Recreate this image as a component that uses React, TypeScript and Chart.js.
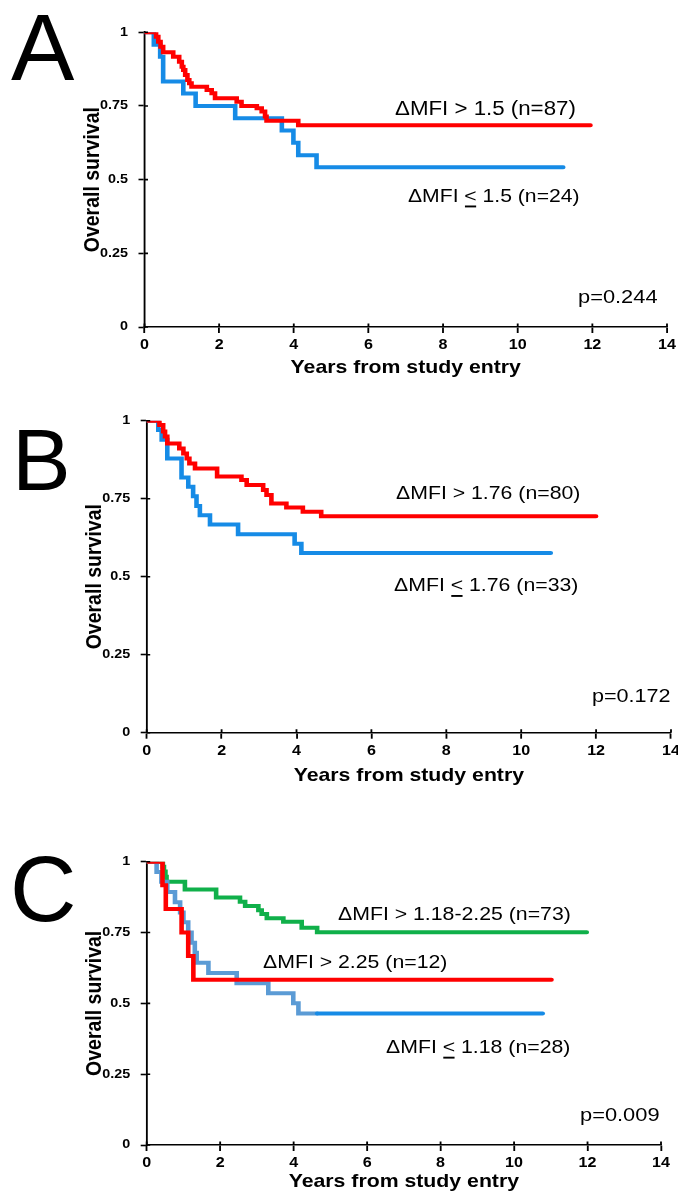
import React, { useEffect, useRef } from 'react';
import { Chart, registerables } from 'chart.js';

Chart.register(...registerables);

const PAGE_W = 678;
const LOGICAL_W = 590;
const SX = PAGE_W / LOGICAL_W;
const FONT = '"Liberation Sans", Arial, Helvetica, sans-serif';

const X_TICKS = [0, 2, 4, 6, 8, 10, 12, 14];
const Y_TICKS = [0, 0.25, 0.5, 0.75, 1];
const Y_TICK_LABELS = ['0', '0.25', '0.5', '0.75', '1'];
const X_TITLE = 'Years from study entry';
const Y_TITLE = 'Overall survival';

const RED = '#ff0000';
const BLUE = '#168be6';
const LIGHT_BLUE = '#5b9bd5';
const GREEN = '#10b04a';

// Panel A
const A_HIGH_T = [0, 0.31, 0.37, 0.43, 0.5, 0.77, 0.93, 1.0, 1.04, 1.09, 1.15, 1.2, 1.26, 1.67, 1.8, 1.89, 2.47, 2.6, 3.01, 3.14, 3.23, 3.27, 4.12, 11.95];
const A_HIGH_S = [1, 0.985, 0.968, 0.951, 0.932, 0.917, 0.9, 0.883, 0.872, 0.855, 0.838, 0.827, 0.815, 0.804, 0.793, 0.776, 0.764, 0.75, 0.742, 0.731, 0.714, 0.7, 0.685, 0.685];
const A_LOW_T = [0, 0.25, 0.42, 0.5, 1.04, 1.37, 2.43, 3.68, 3.99, 4.12, 4.61, 11.22];
const A_LOW_S = [1, 0.958, 0.917, 0.833, 0.792, 0.75, 0.708, 0.667, 0.625, 0.583, 0.542, 0.542];
const A_LABELS = ['ΔMFI > 1.5 (n=87)', 'ΔMFI < 1.5 (n=24)'];
const A_P = 'p=0.244';

// Panel B
const B_HIGH_T = [0, 0.34, 0.44, 0.49, 0.55, 0.87, 0.98, 1.07, 1.14, 1.29, 1.88, 2.53, 2.67, 3.11, 3.2, 3.33, 3.73, 4.17, 4.66, 12.0];
const B_HIGH_S = [1, 0.986, 0.965, 0.949, 0.927, 0.911, 0.895, 0.879, 0.863, 0.847, 0.821, 0.81, 0.794, 0.778, 0.762, 0.735, 0.722, 0.708, 0.694, 0.694];
const B_LOW_T = [0, 0.31, 0.4, 0.55, 0.93, 1.11, 1.24, 1.33, 1.42, 1.69, 2.44, 3.95, 4.13, 10.79];
const B_LOW_S = [1, 0.97, 0.939, 0.879, 0.818, 0.788, 0.758, 0.727, 0.697, 0.667, 0.636, 0.606, 0.576, 0.576];
const B_LABELS = ['ΔMFI > 1.76 (n=80)', 'ΔMFI < 1.76 (n=33)'];
const B_P = 'p=0.172';

// Panel C
const C_MID_T = [0, 0.44, 0.47, 0.51, 0.54, 1.04, 1.89, 2.54, 2.68, 3.04, 3.13, 3.27, 3.72, 4.22, 4.64, 11.98];
const C_MID_S = [1, 0.982, 0.965, 0.947, 0.929, 0.902, 0.874, 0.859, 0.844, 0.829, 0.815, 0.8, 0.788, 0.767, 0.751, 0.751];
const C_HIGH_T = [0, 0.43, 0.52, 0.95, 1.13, 1.27, 11.02];
const C_HIGH_S = [1, 0.917, 0.833, 0.75, 0.667, 0.583, 0.583];
const C_LOW_T = [0, 0.27, 0.4, 0.56, 0.77, 0.91, 1.0, 1.13, 1.22, 1.31, 1.36, 1.68, 2.45, 3.31, 3.99, 4.13, 4.64, 10.78];
const C_LOW_S = [1, 0.964, 0.929, 0.893, 0.857, 0.821, 0.786, 0.75, 0.714, 0.679, 0.643, 0.607, 0.571, 0.536, 0.5, 0.464, 0.464, 0.464];
const C_LABELS = ['ΔMFI > 1.18-2.25 (n=73)', 'ΔMFI > 2.25 (n=12)', 'ΔMFI < 1.18 (n=28)'];
const C_P = 'p=0.009';

type Series = { t: number[]; s: number[]; color: string; order: number; splitAt?: number; lateColor?: string };
type Note = { text: string; x: number; y: number; size: number; underline?: string };
type Panel = {
  letter: string; letterX: number; letterY: number; letterSize: number;
  top: number; height: number; left: number; right: number; plotTop: number; plotBottom: number;
  yTitleCenter: number; xTitleCenter: number; xTickPad: number;
  series: Series[]; notes: Note[];
};

const PANELS: Panel[] = [
  {
    letter: 'A', letterX: 11, letterY: 80, letterSize: 95,
    top: 0, height: 395, left: 144.5, right: 667, plotTop: 32.3, plotBottom: 327,
    yTitleCenter: 93, xTitleCenter: 368, xTickPad: 3.5,
    series: [
      { t: A_LOW_T, s: A_LOW_S, color: BLUE, order: 1 },
      { t: A_HIGH_T, s: A_HIGH_S, color: RED, order: 0 },
    ],
    notes: [
      { text: A_LABELS[0], x: 395, y: 114.7, size: 19.4 },
      { text: A_LABELS[1], x: 408, y: 201.5, size: 18.4, underline: '<' },
      { text: A_P, x: 578, y: 303, size: 19 },
    ],
  },
  {
    letter: 'B', letterX: 12, letterY: 490, letterSize: 88,
    top: 395, height: 395, left: 146.7, right: 671, plotTop: 420.7, plotBottom: 732.7,
    yTitleCenter: 95, xTitleCenter: 776, xTickPad: 4.5,
    series: [
      { t: B_LOW_T, s: B_LOW_S, color: BLUE, order: 1 },
      { t: B_HIGH_T, s: B_HIGH_S, color: RED, order: 0 },
    ],
    notes: [
      { text: B_LABELS[0], x: 396, y: 499, size: 18.5 },
      { text: B_LABELS[1], x: 394, y: 591, size: 18.5, underline: '<' },
      { text: B_P, x: 592, y: 702, size: 18.8 },
    ],
  },
  {
    letter: 'C', letterX: 10, letterY: 921, letterSize: 92,
    top: 790, height: 402, left: 146.7, right: 661, plotTop: 861.7, plotBottom: 1145,
    yTitleCenter: 95, xTitleCenter: 1182, xTickPad: 3.5,
    series: [
      { t: C_MID_T, s: C_MID_S, color: GREEN, order: 2 },
      { t: C_LOW_T, s: C_LOW_S, color: LIGHT_BLUE, order: 1, splitAt: 4.6, lateColor: BLUE },
      { t: C_HIGH_T, s: C_HIGH_S, color: RED, order: 0 },
    ],
    notes: [
      { text: C_LABELS[0], x: 338, y: 920, size: 18.5 },
      { text: C_LABELS[1], x: 263, y: 968.3, size: 18.5 },
      { text: C_LABELS[2], x: 386, y: 1052.7, size: 18.5, underline: '<' },
      { text: C_P, x: 580, y: 1121, size: 19 },
    ],
  },
];

function drawNote(ctx: CanvasRenderingContext2D, n: Note, topOffset: number) {
  ctx.save();
  ctx.translate(n.x, n.y - topOffset);
  ctx.scale(SX, 1);
  ctx.font = `${n.size}px ${FONT}`;
  ctx.fillStyle = '#000';
  ctx.textBaseline = 'alphabetic';
  ctx.textAlign = 'left';
  ctx.fillText(n.text, 0, 0);
  if (n.underline) {
    const idx = n.text.indexOf(n.underline);
    const x0 = ctx.measureText(n.text.slice(0, idx)).width;
    const w = ctx.measureText(n.underline).width;
    ctx.fillRect(x0 + 0.5, 4, w - 1, 1.9);
  }
  ctx.restore();
}

function makePlugin(panel: Panel) {
  return {
    id: 'stretchNotes',
    beforeDraw(chart: any) {
      const ctx = chart.ctx;
      ctx.save();
      ctx.setTransform(SX, 0, 0, 1, 0, 0);
    },
    afterDraw(chart: any) {
      const ctx: CanvasRenderingContext2D = chart.ctx;
      const { left, bottom } = chart.chartArea;
      const xs = chart.scales.x;
      const ys = chart.scales.y;
      ctx.save();
      ctx.strokeStyle = '#000';
      ctx.lineWidth = 1.6;
      ctx.beginPath();
      xs.ticks.forEach((tk: any) => {
        const px = xs.getPixelForValue(tk.value);
        ctx.moveTo(px, bottom);
        ctx.lineTo(px, bottom - 3.5);
      });
      ys.ticks.forEach((tk: any) => {
        const py = ys.getPixelForValue(tk.value);
        ctx.moveTo(left, py);
        ctx.lineTo(left + 3.5 / SX, py);
      });
      ctx.stroke();
      ctx.restore();
      ctx.restore();

      ctx.save();
      ctx.setTransform(1, 0, 0, 1, 0, 0);
      panel.notes.forEach((n) => drawNote(ctx, n, panel.top));
      ctx.font = `${panel.letterSize}px ${FONT}`;
      ctx.fillStyle = '#000';
      ctx.textBaseline = 'alphabetic';
      ctx.textAlign = 'left';
      ctx.fillText(panel.letter, panel.letterX, panel.letterY - panel.top);
      ctx.restore();
    },
  };
}

function PanelChart({ panel }: { panel: Panel }) {
  const ref = useRef<HTMLCanvasElement>(null);
  useEffect(() => {
    const canvas = ref.current as HTMLCanvasElement;
    canvas.width = LOGICAL_W;
    canvas.height = panel.height;
    canvas.style.width = PAGE_W + 'px';
    canvas.style.height = panel.height + 'px';

    const leftL = panel.left / SX;
    const rightL = panel.right / SX;
    const plotTop = panel.plotTop - panel.top;
    const plotBottom = panel.plotBottom - panel.top;
    const xH = panel.height - plotBottom;
    const xTitleSize = 18.5;
    const yTitleSize = 19.5;
    const xTitlePad = panel.height - (panel.xTitleCenter - panel.top) - (xTitleSize * 1.2) / 2;
    const yTitlePad = panel.yTitleCenter / SX - (yTitleSize * 1.2) / 2;

    const chart = new Chart(canvas, {
      type: 'line',
      data: {
        datasets: panel.series.map((se) => ({
          data: se.t.map((x, i) => ({ x, y: se.s[i] })),
          borderColor: se.color,
          borderWidth: 4,
          stepped: 'before',
          pointRadius: 0,
          pointHoverRadius: 0,
          fill: false,
          tension: 0,
          borderCapStyle: 'round',
          borderJoinStyle: 'miter',
          order: se.order,
          segment: se.lateColor
            ? { borderColor: (c: any) => (c.p0.parsed.x >= (se.splitAt as number) ? se.lateColor : se.color) }
            : undefined,
        })),
      } as any,
      options: {
        responsive: false,
        animation: false,
        devicePixelRatio: 1,
        events: [],
        layout: {
          autoPadding: false,
          padding: { top: plotTop, right: LOGICAL_W - rightL, left: 0, bottom: 0 },
        },
        plugins: { legend: { display: false }, tooltip: { enabled: false } },
        scales: {
          x: {
            type: 'linear',
            min: 0,
            max: 14,
            afterBuildTicks: (s: any) => {
              s.ticks = X_TICKS.map((v) => ({ value: v }));
            },
            ticks: {
              callback: (v: any) => String(v),
              font: { family: FONT, size: 14, weight: 'bold' },
              color: '#000',
              padding: panel.xTickPad,
              maxRotation: 0,
              autoSkip: false,
            },
            grid: { display: true, drawOnChartArea: false, drawTicks: true, tickLength: 6, tickWidth: 1.6, tickColor: '#000' },
            border: { display: true, color: '#000', width: 1.6 },
            title: {
              display: true,
              text: X_TITLE,
              color: '#000',
              font: { family: FONT, size: xTitleSize, weight: 'bold' },
              padding: { top: 0, bottom: xTitlePad },
            },
            afterFit: (s: any) => {
              s.height = xH;
              s.paddingLeft = 0;
              s.paddingRight = 0;
            },
          },
          y: {
            type: 'linear',
            min: 0,
            max: 1,
            afterBuildTicks: (s: any) => {
              s.ticks = Y_TICKS.map((v) => ({ value: v }));
            },
            ticks: {
              callback: (v: any) => Y_TICK_LABELS[Y_TICKS.indexOf(v)] ?? '',
              font: { family: FONT, size: 12.5, weight: 'bold' },
              color: '#000',
              padding: 9.1,
              autoSkip: false,
            },
            grid: { display: true, drawOnChartArea: false, drawTicks: true, tickLength: 6 / SX, tickWidth: 1.6, tickColor: '#000' },
            border: { display: true, color: '#000', width: 1.6 },
            title: {
              display: true,
              text: Y_TITLE,
              color: '#000',
              font: { family: FONT, size: yTitleSize, weight: 'bold' },
              padding: { top: yTitlePad, bottom: 0 },
            },
            afterFit: (s: any) => {
              s.width = leftL;
            },
          },
        },
      } as any,
      plugins: [makePlugin(panel)],
    });

    canvas.width = PAGE_W;
    chart.draw();

    return () => {
      chart.destroy();
    };
  }, [panel]);

  return <canvas ref={ref} style={{ position: 'absolute', left: 0, top: panel.top }} />;
}

export default function App() {
  return (
    <div
      style={{
        position: 'absolute',
        left: 0,
        top: 0,
        width: PAGE_W,
        height: 1192,
        background: '#fff',
        overflow: 'hidden',
      }}
    >
      {PANELS.map((p) => (
        <PanelChart key={p.letter} panel={p} />
      ))}
    </div>
  );
}
